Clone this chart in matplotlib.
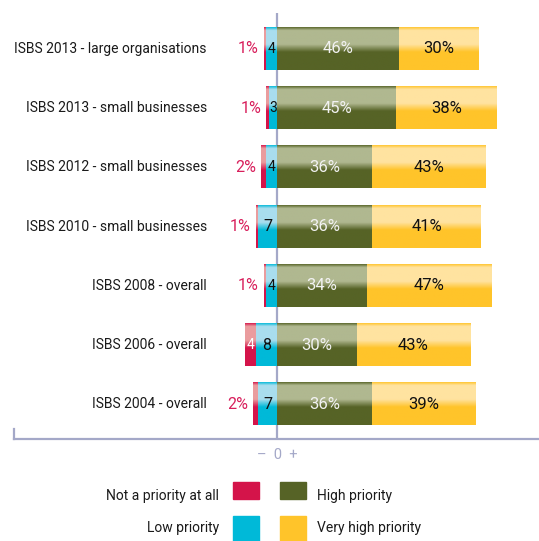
import numpy as np
import matplotlib
matplotlib.use("Agg")
import matplotlib.pyplot as plt
from matplotlib.colors import to_rgb
from matplotlib.patches import Rectangle

plt.rcParams['font.family'] = ['Roboto', 'DejaVu Sans']

# data
categories = ['ISBS 2013 - large organisations', 'ISBS 2013 - small businesses',
              'ISBS 2012 - small businesses', 'ISBS 2010 - small businesses',
              'ISBS 2008 - overall', 'ISBS 2006 - overall', 'ISBS 2004 - overall']
not_priority = [1, 1, 2, 1, 1, 4, 2]
low_priority = [4, 3, 4, 7, 4, 8, 7]
high_priority = [46, 45, 36, 36, 34, 30, 36]
very_high = [30, 38, 43, 41, 47, 43, 39]
legend_names = ['Not a priority at all', 'Low priority', 'High priority', 'Very high priority']

c_red = '#d4144a'
c_cyan = '#00b9d8'
c_green = '#566326'
c_yellow = '#ffc42a'
light = {c_red: '#ea9c9e', c_cyan: '#a9ddee', c_green: '#b0b890', c_yellow: '#ffe3a0'}
axis_col = '#a4a8c8'

W, H = 539, 541
PX = 2.65      # pixels per percent
ROW = 59.2     # pixels per row
X0, Y0 = 277, 49

fig = plt.figure(figsize=(W / 100, H / 100), dpi=100)
ax = fig.add_axes([0, 0, 1, 1])
ax.set_xlim(-X0 / PX, (W - X0) / PX)
ax.set_ylim((H - Y0) / ROW, -Y0 / ROW)
ax.axis('off')

def xd(px):
    return (px - X0) / PX

def yd(px):
    return (px - Y0) / ROW

def gradient(base):
    b = np.array(to_rgb(base))
    l = np.array(to_rgb(light[base]))
    t = np.linspace(0, 1, 80)
    f = np.interp(t, [0, 0.07, 0.40, 0.58, 1], [0.1, 1, 1, 0, 0])
    img = (1 - f)[:, None] * b + f[:, None] * l
    return img[:, None, :]

bh = 0.71

def seg(left, width, y, color):
    ax.imshow(gradient(color), extent=[left, left + width, y + bh / 2, y - bh / 2],
              aspect='auto', interpolation='bilinear', zorder=2)

for i in range(len(categories)):
    lo = low_priority[i]
    na = not_priority[i]
    hi = high_priority[i]
    vh = very_high[i]
    seg(-lo - na, na, i, c_red)
    seg(-lo, lo, i, c_cyan)
    seg(0, hi, i, c_green)
    seg(hi, vh, i, c_yellow)

    ax.text(xd(207), i, categories[i], ha='right', va='center', fontsize=10, color='#1a1a1a')
    if na >= 3:
        ax.text(-lo - na / 2, i, str(na), ha='center', va='center', fontsize=10,
                color='white', zorder=3)
    else:
        ax.text(-lo - na - 1.9, i, f'{na}%', ha='right', va='center', fontsize=11.5,
                color='#d81e5b')
    ax.text(-lo / 2, i, str(lo), ha='center', va='center', fontsize=11.5 if lo > 5 else 10,
            color='#111111', zorder=3)
    ax.text(hi / 2, i, f'{hi}%', ha='center', va='center', fontsize=12,
            color='#f2f2f2', zorder=3)
    ax.text(hi + vh / 2, i, f'{vh}%', ha='center', va='center', fontsize=12,
            color='#111111', zorder=3)

# axis lines
ax.plot([0, 0], [yd(13), yd(439)], color=axis_col, lw=1.6, zorder=1, solid_capstyle='butt')
ax.plot([xd(14), xd(539)], [yd(439), yd(439)], color=axis_col, lw=1.6, zorder=1)
ax.plot([xd(14), xd(14)], [yd(429), yd(439)], color=axis_col, lw=1.6, zorder=1)
ax.text(0, yd(455), '–  0  +', ha='center', va='center', fontsize=10.5, color=axis_col)

# legend
def fx(px):
    return px / W

def fy(px):
    return 1 - px / H

sq_w = 26
legend_cols = [c_red, c_cyan, c_green, c_yellow]
sq_pos = [(233, 482, 17), (233, 516, 25), (280, 482, 17), (280, 516, 25)]
text_y = [496, 528, 496, 528]
for k in range(4):
    sx, sy, sh = sq_pos[k]
    fig.add_artist(Rectangle((fx(sx), fy(sy + sh)), sq_w / W, sh / H,
                             transform=fig.transFigure, color=legend_cols[k]))
    if k < 2:
        fig.text(fx(219), fy(text_y[k]), legend_names[k], ha='right', va='center',
                 fontsize=10, color='#1a1a1a')
    else:
        fig.text(fx(317), fy(text_y[k]), legend_names[k], ha='left', va='center',
                 fontsize=10, color='#1a1a1a')

fig.savefig('out.png', dpi=100)
